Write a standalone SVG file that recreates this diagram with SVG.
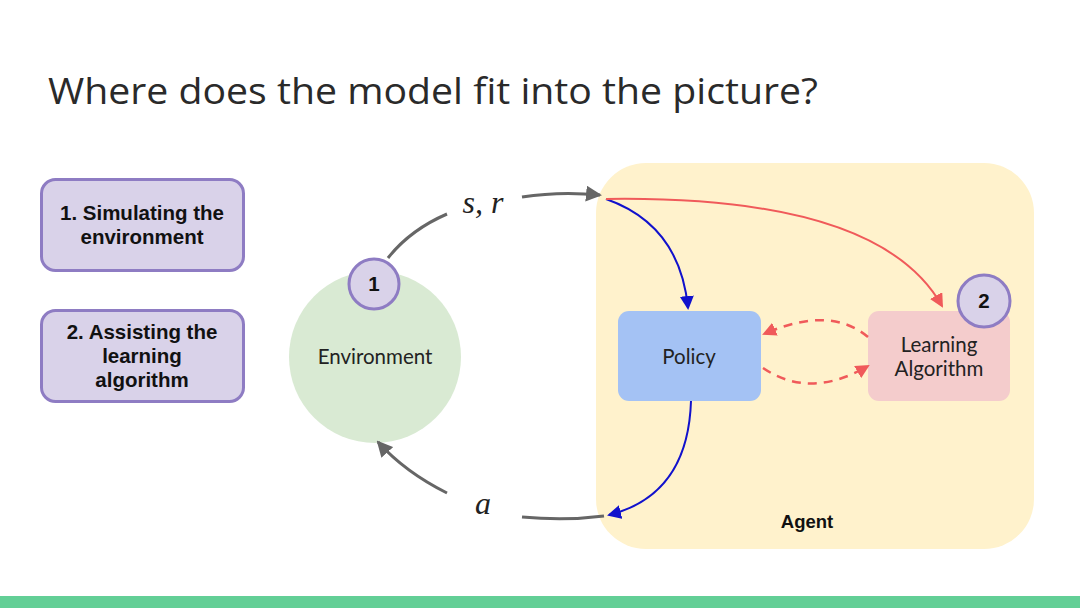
<svg xmlns="http://www.w3.org/2000/svg" width="1080" height="608" viewBox="0 0 1080 608">
<style>
.box{fill:#d9d2e9;stroke:#8e7cc3;stroke-width:3}
.bt{font-family:"Liberation Sans",Arial,sans-serif;font-weight:bold;font-size:20.5px;fill:#111;text-anchor:middle}
.lt{font-family:Lato,"Liberation Sans",sans-serif;font-size:20.5px;fill:#222;text-anchor:middle}
.math{font-family:"Liberation Serif","DejaVu Serif",serif;font-style:italic;font-size:32px;fill:#222;text-anchor:middle}
.gray{fill:none;stroke:#666;stroke-width:3}
.blue{fill:none;stroke:#1111cc;stroke-width:2}
.red{fill:none;stroke:#f05a5a;stroke-width:2}
.dash{fill:none;stroke:#f05a5a;stroke-width:2.5;stroke-dasharray:9 7}
</style>
<defs>
<marker id="agb" markerWidth="16" markerHeight="16" refX="14" refY="8" orient="auto" markerUnits="userSpaceOnUse" viewBox="0 0 16 16"><path d="M0,0 L16,8 L0,16 Z" fill="#666"/></marker>
<marker id="ab" markerWidth="14" markerHeight="14" refX="12" refY="7" orient="auto" markerUnits="userSpaceOnUse" viewBox="0 0 14 14"><path d="M0,0 L14,7 L0,14 Z" fill="#1111cc"/></marker>
<marker id="ar" markerWidth="14" markerHeight="14" refX="12" refY="7" orient="auto" markerUnits="userSpaceOnUse" viewBox="0 0 14 14"><path d="M0,0 L14,7 L0,14 Z" fill="#f05a5a"/></marker>
</defs>
<rect width="1080" height="608" fill="#fff"/>
<text x="48" y="104" font-family="'Open Sans','Liberation Sans',sans-serif" font-size="37" fill="#2a2a2a" textLength="770" lengthAdjust="spacingAndGlyphs">Where does the model fit into the picture?</text>
<rect x="0" y="596" width="1080" height="12" fill="#63cf96"/>

<g id="item1"><rect class="box" x="41.5" y="179.5" width="202" height="91" rx="14"/><text class="bt" x="142" y="220">1. Simulating the</text><text class="bt" x="142" y="244">environment</text></g>
<g id="item2"><rect class="box" x="41.5" y="310.5" width="202" height="91" rx="14"/><text class="bt" x="142" y="339">2. Assisting the</text><text class="bt" x="142" y="363">learning</text><text class="bt" x="142" y="387">algorithm</text></g>

<g id="agent"><rect x="596" y="163" width="438" height="386" rx="50" fill="#fff2cc"/><text x="807" y="528" font-family="'Liberation Sans',Arial,sans-serif" font-weight="bold" font-size="18.5" fill="#111" text-anchor="middle">Agent</text></g>

<g id="environment"><circle cx="375" cy="357" r="86" fill="#d9ead3"/><text class="lt" x="375" y="364">Environment</text></g>
<g id="badge1"><circle cx="374" cy="284" r="25" class="box"/><text class="bt" x="374" y="291" font-size="17">1</text></g>

<g id="policy"><rect x="618" y="311" width="143" height="90" rx="11" fill="#a4c2f4"/><text class="lt" x="689" y="364">Policy</text></g>
<g id="learning"><rect x="868" y="311" width="142" height="90" rx="11" fill="#f4cccc"/><text class="lt" x="939" y="352">Learning</text><text class="lt" x="939" y="376">Algorithm</text></g>
<g id="badge2"><circle cx="984" cy="301" r="26" class="box"/><text class="bt" x="984" y="308" font-size="17">2</text></g>

<g id="connectors">
<path class="gray" d="M388,258 Q410,230 447,214"/>
<path class="gray" d="M522,197 Q560,191 600,195" marker-end="url(#agb)"/>
<path class="gray" d="M447,493 Q405,472 378,442" marker-end="url(#agb)"/>
<path class="gray" d="M522,517 Q565,521 604,516"/>
<path class="blue" d="M606,199 Q680,225 688,308" marker-end="url(#ab)"/>
<path class="blue" d="M691,401 Q688,495 609,515" marker-end="url(#ab)"/>
<path class="red" d="M606,199 Q880,195 942,306" marker-end="url(#ar)"/>
<path class="dash" d="M868,337 Q830,305 764,334" marker-end="url(#ar)"/>
<path class="dash" d="M763,368 Q810,400 868,366" marker-end="url(#ar)"/>
</g>
<text class="math" x="483" y="213">s, r</text>
<text class="math" x="483" y="514">a</text>
</svg>
